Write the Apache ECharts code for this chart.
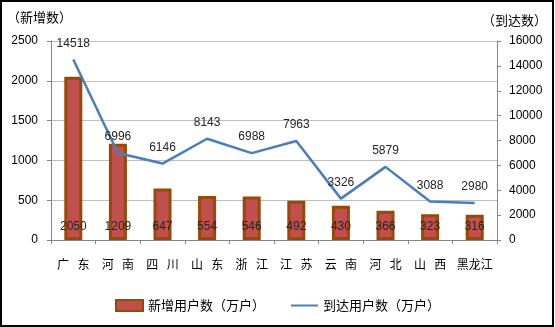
<!DOCTYPE html>
<html>
<head>
<meta charset="utf-8">
<script src="https://cdn.jsdelivr.net/npm/echarts@6/dist/echarts.min.js"></script>
<style>
  html, body { margin: 0; padding: 0; background: #fff; }
  #frame { position: absolute; left: 0; top: 0; width: 554px; height: 327px; border: 2px solid #000; box-sizing: border-box; }
  #chart { position: absolute; left: 0; top: 0; width: 555px; height: 327px; }
</style>
</head>
<body>
<div id="chart"></div>
<div id="frame"></div>
<script>
// Provinces, new users and total users (both in 万户)
const provinces = ['广东', '河南', '四川', '山东', '浙江', '江苏', '云南', '河北', '山西', '黑龙江'];
const newUsers = [2050, 1209, 647, 554, 546, 492, 430, 366, 323, 316];
const totalUsers = [14518, 6996, 6146, 8143, 6988, 7963, 3326, 5879, 3088, 2980];
const leftTicks = { min: 0, max: 2500, interval: 500 };
const rightTicks = { min: 0, max: 16000, interval: 2000 };
const seriesNames = ['新增用户数（万户）', '到达用户数（万户）'];
const axisTitles = ['（新增数）', '（到达数）'];

const numFont = 'Liberation Sans, Arial, sans-serif';
const cjkFont = '"Noto Sans CJK SC", sans-serif';
const plain = (v) => String(v);

const chart = echarts.init(document.getElementById('chart'), null, { renderer: 'canvas' });
chart.setOption({
  animation: false,
  backgroundColor: '#fff',
  graphic: [
    { type: 'text', left: 7, top: 11, style: { text: axisTitles[0], font: '13px ' + cjkFont, fill: '#000' } },
    { type: 'text', right: 8, top: 14, style: { text: axisTitles[1], font: '13px ' + cjkFont, fill: '#000' } }
  ],
  grid: { left: 51, right: 58, top: 41, bottom: 87 },
  legend: {
    bottom: 10,
    left: 'center',
    itemGap: 25,
    itemWidth: 27,
    itemHeight: 11,
    textStyle: { fontFamily: cjkFont, fontSize: 13, color: '#000' },
    data: [
      { name: seriesNames[0], icon: 'rect' },
      { name: seriesNames[1], itemStyle: { opacity: 0 } }
    ]
  },
  xAxis: {
    type: 'category',
    data: provinces,
    axisLine: { lineStyle: { color: '#868686', width: 1 } },
    axisTick: { show: true, length: 4, inside: false, lineStyle: { color: '#868686' } },
    axisLabel: {
      interval: 0,
      margin: 18,
      fontFamily: cjkFont,
      fontSize: 12,
      color: '#000',
      formatter: (v) => v.length === 2 ? v[0] + '\u2002\u2009' + v[1] : v
    }
  },
  yAxis: [
    {
      type: 'value',
      min: leftTicks.min, max: leftTicks.max, interval: leftTicks.interval,
      axisLine: { show: true, lineStyle: { color: '#868686' } },
      axisTick: { show: true, length: 4, lineStyle: { color: '#868686' } },
      splitLine: { show: true, lineStyle: { color: '#bfbfbf', width: 1 } },
      axisLabel: { margin: 13, fontFamily: numFont, fontSize: 12, color: '#000', formatter: plain }
    },
    {
      type: 'value',
      min: rightTicks.min, max: rightTicks.max, interval: rightTicks.interval,
      axisLine: { show: true, lineStyle: { color: '#868686' } },
      axisTick: { show: true, length: 4, lineStyle: { color: '#868686' } },
      splitLine: { show: false },
      axisLabel: { margin: 12, fontFamily: numFont, fontSize: 12, color: '#000', formatter: plain }
    }
  ],
  series: [
    {
      name: seriesNames[0],
      type: 'bar',
      yAxisIndex: 0,
      data: newUsers,
      barWidth: 18,
      itemStyle: { color: '#c0504d', borderColor: '#984807', borderWidth: 3 },
      label: {
        show: true,
        position: 'insideBottom',
        distance: 7,
        fontFamily: numFont,
        fontSize: 12,
        color: '#262626'
      }
    },
    {
      name: seriesNames[1],
      type: 'line',
      yAxisIndex: 1,
      data: totalUsers,
      showSymbol: true,
      symbol: 'circle',
      symbolSize: 0.1,
      lineStyle: { color: '#4a7ebb', width: 2.5 },
      itemStyle: { color: '#4a7ebb' },
      label: {
        show: true,
        position: 'top',
        distance: 10,
        fontFamily: numFont,
        fontSize: 12,
        color: '#262626'
      }
    }
  ]
});
</script>
</body>
</html>
